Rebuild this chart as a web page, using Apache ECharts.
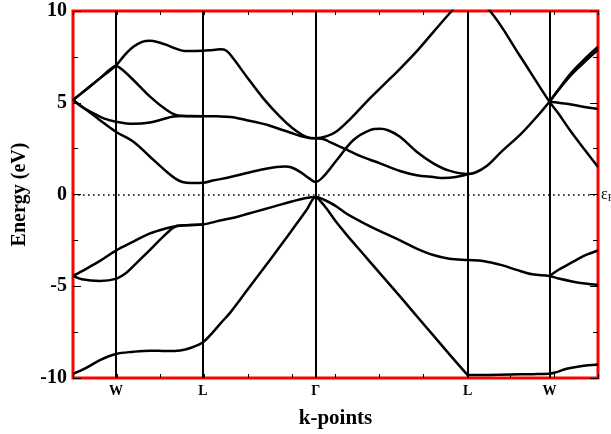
<!DOCTYPE html>
<html><head><meta charset="utf-8">
<script src="https://cdn.jsdelivr.net/npm/echarts@6/dist/echarts.min.js"></script>
<style>html,body{margin:0;padding:0;background:#fff}#c{width:611px;height:434px}</style>
</head><body><div id="c"></div>
<script>
// high-symmetry points along the k path and their labels
const kPoints = [0.98, 2.97, 5.547, 9.02, 10.89];
const kLabels = ['W', 'L', 'Γ', 'L', 'W'];
const kMin = 0, kMax = 12;
const eMin = -10, eMax = 10, eStep = 5, eMinorStep = 2.5;

// conduction bands [k, E(eV)]
const cbTop = [[0,5.15],[0.3,5.72],[0.6,6.3],[0.98,7.03],[1.18,7.6],[1.38,8.05],[1.58,8.32],[1.76,8.38],[1.95,8.3],[2.14,8.15],[2.35,7.95],[2.56,7.82],[2.97,7.83],[3.2,7.88],[3.36,7.91],[3.5,7.85],[3.66,7.42],[3.97,6.42],[4.35,5.24],[4.73,4.24],[5.02,3.61],[5.32,3.15],[5.547,3.06],[5.8,3.18],[6.03,3.45],[6.33,4.1],[6.71,5.05],[7.1,5.97],[7.474,6.85],[7.855,7.8],[8.235,8.85],[8.656,10.0],[9.02,10.9],[9.531,10.0],[10.217,7.55],[10.89,5.06],[11.1,4.4],[11.36,3.5],[11.66,2.55],[12,1.5]];
const cbSecond = [[0,5.15],[0.3,5.72],[0.6,6.3],[0.85,6.82],[0.98,7.0],[1.1,6.85],[1.38,6.24],[1.76,5.33],[2.14,4.6],[2.35,4.33],[2.6,4.27],[2.97,4.27],[3.3,4.26],[3.6,4.22],[3.97,4.05],[4.35,3.85],[4.5,3.75],[4.96,3.38],[5.2,3.18],[5.4,3.08],[5.547,3.06],[5.75,3.0],[5.874,2.85],[6.256,2.45],[6.56,2.1],[7.017,1.7],[7.474,1.28],[7.855,1.05],[8.235,0.95],[8.46,0.9],[8.75,0.95],[9.02,1.1]];
const cbThird = [[0,5.15],[0.2,4.78],[0.45,4.45],[0.7,4.15],[0.98,3.97],[1.37,3.85],[1.76,3.92],[2.05,4.1],[2.29,4.25],[2.5,4.28],[2.97,4.27]];
const cbFourth = [[0,5.15],[0.3,4.62],[0.6,4.08],[0.98,3.42],[1.38,2.88],[1.76,2.06],[2.14,1.24],[2.35,0.85],[2.5,0.68],[2.7,0.63],[2.97,0.64],[3.2,0.76],[3.6,0.95],[3.97,1.17],[4.35,1.38],[4.65,1.5],[4.85,1.53],[5.0,1.47],[5.2,1.22],[5.4,0.88],[5.547,0.68],[5.72,0.97],[6.03,1.88],[6.41,2.97],[6.79,3.51],[7.02,3.58],[7.2,3.5],[7.474,3.15],[7.855,2.33],[8.235,1.7],[8.6,1.3],[9.02,1.12],[9.2,1.2],[9.456,1.55],[9.8,2.35],[10.217,3.25],[10.55,4.1],[10.89,5.06],[11.36,6.55],[11.66,7.3],[12,8.05]];
const cbW2Up = [[10.89,5.06],[11.36,6.45],[11.66,7.15],[12,7.88]];
const cbW2Flat = [[10.89,5.06],[11.1,5.0],[11.36,4.92],[11.66,4.78],[12,4.66]];

// valence bands [k, E(eV)]
const vbUpper = [[0,-4.44],[0.3,-4.05],[0.617,-3.62],[0.98,-3.06],[1.38,-2.57],[1.76,-2.12],[2.14,-1.84],[2.37,-1.72],[2.6,-1.67],[2.97,-1.63],[3.36,-1.42],[3.7,-1.25],[4.0,-1.05],[4.35,-0.82],[4.7,-0.58],[5.0,-0.38],[5.3,-0.2],[5.547,-0.13],[5.75,-0.3],[6.0,-0.62],[6.256,-1.05],[6.6,-1.5],[7.017,-2.0],[7.474,-2.5],[7.855,-2.95],[8.235,-3.3],[8.6,-3.5],[9.02,-3.57],[9.371,-3.62],[9.8,-3.85],[10.141,-4.11],[10.5,-4.35],[10.89,-4.44],[11.1,-4.58],[11.435,-4.75],[11.7,-4.85],[12,-4.93]];
const vbLowerLeft = [[0,-4.44],[0.2,-4.62],[0.617,-4.71],[0.98,-4.6],[1.2,-4.3],[1.38,-3.9],[1.76,-3.02],[2.14,-2.12],[2.37,-1.72],[2.6,-1.67],[2.97,-1.63]];
const vbW2Up = [[10.89,-4.44],[11.1,-4.1],[11.435,-3.66],[11.7,-3.32],[12,-3.05]];
const vbLowest = [[0,-9.78],[0.3,-9.45],[0.617,-9.02],[0.98,-8.69],[1.38,-8.57],[1.76,-8.51],[2.14,-8.53],[2.45,-8.5],[2.7,-8.35],[2.97,-8.05],[3.2,-7.5],[3.4,-6.95],[3.589,-6.45],[3.97,-5.25],[4.35,-4.05],[4.73,-2.83],[5.11,-1.6],[5.35,-0.8],[5.547,-0.13],[5.65,-0.35],[5.8,-0.78],[6.0,-1.45],[6.256,-2.2],[6.6,-3.15],[7.017,-4.3],[7.474,-5.55],[7.855,-6.62],[8.235,-7.68],[8.6,-8.7],[9.02,-9.84]];
const vbBottomRight = [[9.02,-9.84],[9.5,-9.83],[10.0,-9.81],[10.5,-9.79],[10.89,-9.77],[11.05,-9.68],[11.28,-9.5],[11.6,-9.36],[12,-9.27]];

const bandList = [cbTop, cbSecond, cbThird, cbFourth, cbW2Up, cbW2Flat, vbUpper, vbLowerLeft, vbW2Up, vbLowest, vbBottomRight];

const serif = '"Liberation Serif", "Times New Roman", serif';
const chart = echarts.init(document.getElementById('c'), null, {renderer: 'canvas'});

const series = bandList.map(b => ({
  type: 'line', data: b, smooth: 0.35, symbol: 'none', silent: true,
  lineStyle: {color: '#000', width: 2.5}, clip: true, z: 3
}));
series.push({
  type: 'line', data: [], symbol: 'none', silent: true, z: 2,
  markLine: {
    silent: true, symbol: ['none', 'none'], animation: false,
    data: kPoints.map(k => ({xAxis: k, lineStyle: {color: '#000', width: 2, type: 'solid'}, label: {show: false}}))
      .concat([{yAxis: 0, lineStyle: {color: '#000', width: 1.6, type: [1.6, 3.4]},
        label: {show: true, position: 'end', distance: 3, formatter: '{e|ε}{f|F}',
          rich: {e: {fontFamily: serif, fontSize: 16, color: '#000'}, f: {fontFamily: serif, fontSize: 10, color: '#000', padding: [8, 0, 0, 0]}}}}])
  }
});

function yAx(position, interval, tickLen, withLabel) {
  const a = {
    type: 'value', position: position, min: eMin, max: eMax, interval: interval,
    axisLine: {show: false, onZero: false}, splitLine: {show: false},
    axisTick: {show: true, inside: true, length: tickLen, lineStyle: {color: '#000', width: 1}},
    axisLabel: {show: false}
  };
  if (withLabel) {
    a.axisLabel = {show: true, margin: 6, fontFamily: serif, fontWeight: 'bold', fontSize: 20, color: '#000'};
    a.name = 'Energy (eV)'; a.nameLocation = 'middle'; a.nameGap = 35; a.nameRotate = 90;
    a.nameTextStyle = {fontFamily: serif, fontWeight: 'bold', fontSize: 20, color: '#000'};
  }
  return a;
}

chart.setOption({
  animation: false,
  backgroundColor: '#fff',
  grid: {left: 73, right: 13, top: 11, bottom: 56, show: true, borderColor: '#ff0000', borderWidth: 3, containLabel: false},
  xAxis: [
    {type: 'value', position: 'bottom', min: kMin, max: kMax, interval: 1,
     axisLine: {show: false, onZero: false}, splitLine: {show: false},
     axisTick: {show: true, inside: true, length: 4, lineStyle: {color: '#000'}},
     axisLabel: {show: true, customValues: kPoints, margin: 6,
       formatter: v => { const i = kPoints.indexOf(v); return i >= 0 ? kLabels[i] : ''; },
       fontFamily: serif, fontWeight: 'bold', fontSize: 14, color: '#000'},
     name: 'k-points', nameLocation: 'middle', nameGap: 30,
     nameTextStyle: {fontFamily: serif, fontWeight: 'bold', fontSize: 21, color: '#000'}},
    {type: 'value', position: 'top', min: kMin, max: kMax, interval: 1,
     axisLine: {show: false, onZero: false}, splitLine: {show: false}, axisLabel: {show: false},
     axisTick: {show: true, inside: true, length: 4, lineStyle: {color: '#000'}}}
  ],
  yAxis: [
    yAx('left', eStep, 8, true),
    yAx('right', eStep, 8, false),
    yAx('left', eMinorStep, 5, false),
    yAx('right', eMinorStep, 5, false)
  ],
  series: series
});
</script></body></html>
